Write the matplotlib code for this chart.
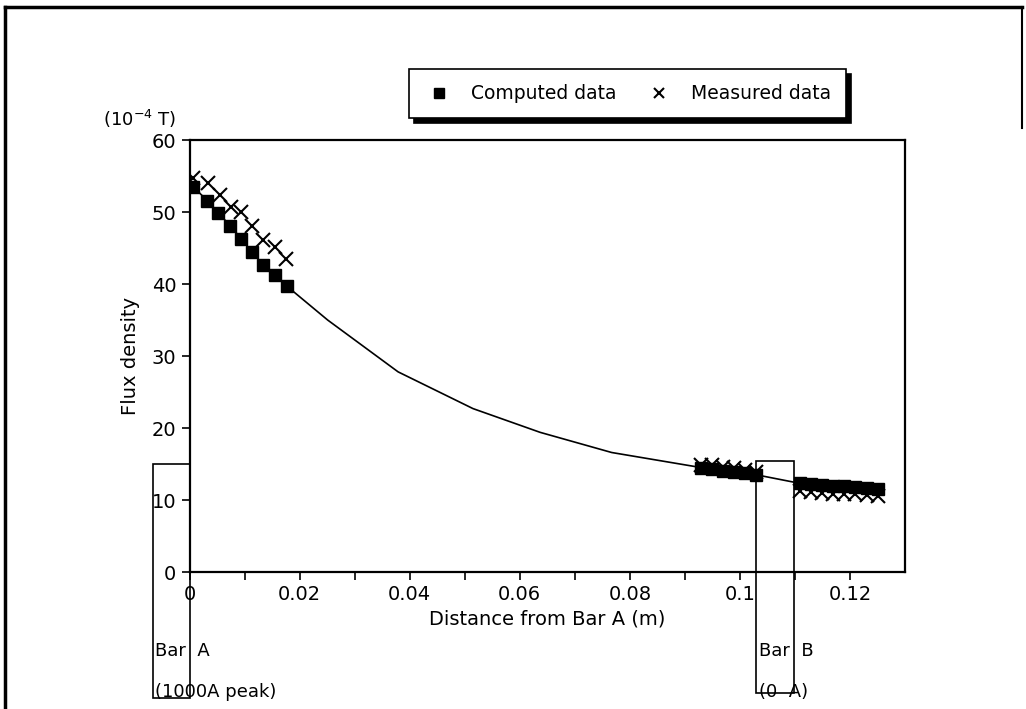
import matplotlib.pyplot as plt
from matplotlib.lines import Line2D
from matplotlib.patches import Rectangle

plt.rcParams['font.family'] = ['Liberation Sans Narrow', 'DejaVu Sans']

# computed data shown with markers (near Bar A, either side of Bar B)
comp_x = [0.0007, 0.0032, 0.0052, 0.0074, 0.0094, 0.0114, 0.0134, 0.0156, 0.0177,
          0.093, 0.095, 0.097, 0.099, 0.101, 0.103,
          0.111, 0.113, 0.115, 0.117, 0.119, 0.121, 0.123, 0.125]
comp_y = [53.5, 51.6, 49.9, 48.1, 46.3, 44.4, 42.7, 41.2, 39.7,
          14.5, 14.3, 14.1, 13.9, 13.7, 13.5,
          12.3, 12.2, 12.1, 12.0, 11.9, 11.8, 11.7, 11.6]

# computed values only drawn as the line between the two groups
mid_x = [0.0251, 0.0379, 0.0515, 0.0637, 0.0767]
mid_y = [35.0, 27.8, 22.7, 19.4, 16.6]

# measured data
meas_x = [0.0007, 0.0034, 0.0055, 0.0075, 0.0094, 0.0113, 0.0134, 0.0155, 0.0175,
          0.093, 0.095, 0.097, 0.099, 0.101, 0.103,
          0.111, 0.113, 0.115, 0.117, 0.119, 0.121, 0.123, 0.125]
meas_y = [54.7, 54.1, 52.4, 50.7, 50.0, 48.0, 46.1, 45.1, 43.5,
          14.9, 14.8, 14.6, 14.4, 14.2, 13.9,
          11.3, 11.1, 11.0, 10.9, 10.8, 10.8, 10.7, 10.6]

x_ticks = [0, 0.02, 0.04, 0.06, 0.08, 0.1, 0.12]
x_labels = ['0', '0.02', '0.04', '0.06', '0.08', '0.1', '0.12']
y_ticks = [0, 10, 20, 30, 40, 50, 60]

fig = plt.figure(figsize=(10.26, 7.09), dpi=100)
ax = fig.add_axes([0.1847, 0.1932, 0.6974, 0.6093])

# line through every computed value
line = sorted(zip(comp_x + mid_x, comp_y + mid_y))
ax.plot([p[0] for p in line], [p[1] for p in line], color='black', lw=1.2)

ax.plot(comp_x, comp_y, 's', color='black', markersize=9, label='Computed data')
ax.plot(meas_x, meas_y, 'x', color='black', markersize=10, mew=1.5,
        label='Measured data')

ax.set_xlim(0, 0.13)
ax.set_ylim(0, 60)
ax.set_xticks(x_ticks)
ax.set_xticklabels(x_labels)
ax.set_xticks([0.01, 0.03, 0.05, 0.07, 0.09, 0.11], minor=True)
ax.set_yticks(y_ticks)
ax.tick_params(direction='out', length=6, width=1.2, labelsize=14)
ax.tick_params(which='minor', direction='out', length=6, width=1.2)
for s in ax.spines.values():
    s.set_linewidth(1.6)

ax.set_xlabel('Distance from Bar A (m)', fontsize=14, labelpad=4)
ax.set_ylabel('Flux density', fontsize=14, labelpad=8)
fig.text(103 / 1026, 1 - 119 / 709, '(10$^{-4}$ T)', fontsize=13,
         ha='left', va='center')

# bar outlines reaching below the axes
ax.add_patch(Rectangle((-0.0067, -17.5), 0.0067, 32.5, fill=False,
                       edgecolor='black', lw=1.2, clip_on=False))
ax.add_patch(Rectangle((0.103, -16.8), 0.0068, 32.2, fill=False,
                       edgecolor='black', lw=1.2, clip_on=False))
ax.text(-0.0063, -11.0, 'Bar  A', fontsize=13, ha='left', va='center')
ax.text(-0.0063, -16.6, '(1000A peak)', fontsize=13, ha='left', va='center')
ax.text(0.1034, -11.0, 'Bar  B', fontsize=13, ha='left', va='center')
ax.text(0.1034, -16.6, '(0  A)', fontsize=13, ha='left', va='center')

leg = ax.legend(loc='center', bbox_to_anchor=(0.6115, 0.8677),
                bbox_transform=fig.transFigure, ncol=2, fontsize=13.5,
                frameon=True, fancybox=False, edgecolor='black',
                framealpha=1, handlelength=1.6, handletextpad=0.9,
                columnspacing=1.5, borderpad=0.8, markerscale=0.75,
                shadow={'color': 'black', 'alpha': 1, 'ox': 3.5, 'oy': -3.5})
leg.get_frame().set_linewidth(1.2)

# outer frame of the page
fig.add_artist(Line2D([0.005, 0.005], [0.0, 0.99], color='black', lw=2.5))
fig.add_artist(Line2D([0.005, 0.996], [0.99, 0.99], color='black', lw=2.5))
fig.add_artist(Line2D([0.996, 0.996], [0.99, 0.82], color='black', lw=1.5))

fig.savefig('out.png', dpi=100)
